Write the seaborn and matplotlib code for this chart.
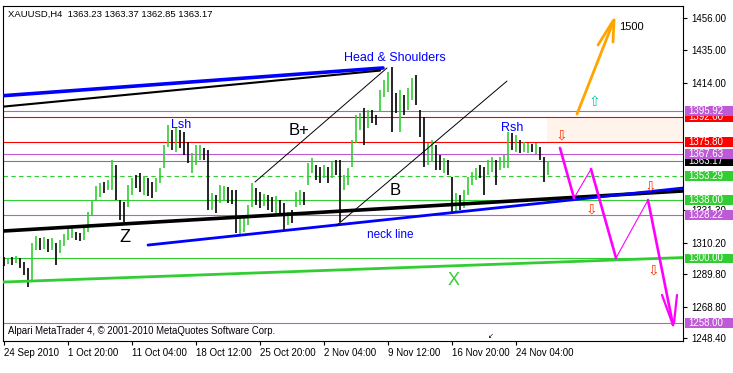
import matplotlib
matplotlib.use("Agg")
import matplotlib.pyplot as plt
import matplotlib.transforms as mtransforms
from matplotlib.patches import Rectangle
import seaborn as sns

# ---------------- data ----------------
highs = [1301.0, 1300.3, 1301.0, 1301.6, 1300.3, 1297.7, 1293.8, 1310.0, 1314.6, 1313.3,
         1313.9, 1312.6, 1313.3, 1310.0, 1312.0, 1315.9, 1319.8, 1321.1, 1317.2, 1316.5,
         1321.7, 1330.1, 1337.9, 1347.0, 1349.0, 1349.6, 1350.9, 1363.9, 1360.6, 1337.9,
         1336.6, 1347.7, 1352.2, 1354.1, 1355.4, 1353.5, 1352.2, 1349.6, 1352.2, 1358.7,
         1373.6, 1386.6, 1383.3, 1384.6, 1383.3, 1382.0, 1375.6, 1368.4, 1373.6, 1373.6,
         1371.7, 1370.4, 1342.5, 1341.2, 1347.7, 1347.0, 1346.4, 1344.4, 1344.4, 1326.9,
         1328.2, 1334.7, 1349.0, 1345.7, 1343.1, 1341.8, 1341.2, 1339.9, 1340.5, 1337.9,
         1336.0, 1330.1, 1331.4, 1343.1, 1344.4, 1343.1, 1361.9, 1365.2, 1360.6, 1359.3,
         1360.6, 1359.3, 1362.6, 1363.9, 1363.9, 1354.1, 1358.7, 1376.9, 1393.1, 1394.4,
         1397.6, 1396.3, 1396.3, 1393.1, 1409.3, 1415.8, 1421.0, 1424.2, 1407.3, 1409.3,
         1406.0, 1410.6, 1417.1, 1419.0, 1396.3, 1391.8, 1374.9, 1376.9, 1373.6, 1367.1,
         1365.2, 1363.9, 1352.9, 1342.5, 1341.2, 1344.4, 1352.9, 1356.1, 1358.7, 1360.6,
         1359.3, 1363.9, 1365.8, 1363.9, 1365.8, 1367.1, 1382.0, 1381.4, 1380.1, 1376.9,
         1375.6, 1374.9, 1374.3, 1374.9, 1372.3, 1365.8, 1363.4]
lows = [1295.1, 1296.4, 1295.8, 1297.1, 1293.8, 1289.3, 1281.5, 1285.4, 1305.5, 1305.5,
        1306.1, 1304.2, 1305.5, 1295.8, 1303.5, 1308.1, 1312.0, 1313.3, 1312.0, 1311.3,
        1312.0, 1317.2, 1328.2, 1337.9, 1339.9, 1342.5, 1344.4, 1344.4, 1337.9, 1325.0,
        1323.7, 1333.4, 1341.2, 1345.7, 1343.1, 1341.2, 1340.5, 1339.2, 1343.1, 1349.0,
        1358.7, 1372.3, 1370.4, 1369.1, 1371.7, 1367.1, 1361.9, 1355.4, 1360.6, 1363.9,
        1363.9, 1331.4, 1331.4, 1329.5, 1336.0, 1337.9, 1336.0, 1335.3, 1316.5, 1315.2,
        1317.2, 1321.7, 1333.4, 1334.7, 1332.7, 1334.0, 1331.4, 1330.1, 1329.5, 1328.2,
        1318.5, 1321.7, 1323.0, 1333.4, 1334.7, 1334.7, 1347.7, 1355.4, 1350.9, 1349.0,
        1352.2, 1349.0, 1352.2, 1354.1, 1323.7, 1344.4, 1347.7, 1359.3, 1374.9, 1383.3,
        1373.6, 1384.6, 1387.9, 1386.6, 1395.0, 1404.8, 1408.0, 1382.0, 1394.4, 1382.0,
        1393.1, 1396.3, 1402.8, 1399.6, 1378.8, 1359.3, 1360.6, 1362.6, 1357.4, 1357.4,
        1355.4, 1354.1, 1329.5, 1330.1, 1331.4, 1332.7, 1341.2, 1347.7, 1350.9, 1352.2,
        1341.2, 1354.1, 1356.1, 1347.7, 1357.4, 1358.7, 1358.7, 1370.4, 1369.1, 1368.4,
        1369.1, 1368.4, 1369.1, 1367.8, 1363.9, 1349.6, 1354.1]
direction = ("dududdduud" "ududuuuudd" "uuuuuduudd" "duuddudduu" "uududdduuu"
             "dduduudddu" "uuudduddud" "duduuduudd" "ududduuuuu" "dudduuuddu"
             "duuddduudd" "udduduuuud" "duuduuudud" "uududdu")

tick_bars = [0, 16, 32, 48, 64, 80, 96, 112, 128]
tick_labels = ["24 Sep 2010", "1 Oct 20:00", "11 Oct 04:00", "18 Oct 12:00",
               "25 Oct 20:00", "2 Nov 04:00", "9 Nov 12:00", "16 Nov 20:00",
               "24 Nov 04:00"]
price_ticks = [1456.00, 1435.00, 1414.00, 1331.30, 1310.20, 1289.80, 1268.80, 1248.40]

GREEN = "#32CD32"
PURPLE = "#BF5AD6"
RED = "#FF0000"
GRAY = "#708090"

level_values = [1395.92, 1392.00, 1375.80, 1367.63, 1363.17, 1353.29, 1338.00, 1328.22, 1300.00, 1258.00]
level_colors = [PURPLE, RED, RED, PURPLE, GRAY, GREEN, GREEN, PURPLE, GREEN, PURPLE]
level_styles = ["-", "-", "-", "-", "-", "--", "-", "-", "-", "-"]
label_order = [1, 0, 2, 4, 3, 5, 6, 7, 8, 9]
label_colors = [PURPLE, RED, RED, PURPLE, "#000000", GREEN, GREEN, PURPLE, GREEN, PURPLE]

# trend lines: (x0, x1), (y0, y1), colour, width
trend_x = [(-0.25, 94.75), (-0.25, 94.0), (-0.25, 169.75), (36.0, 169.75), (-0.25, 169.75),
           (62.75, 95.75), (83.0, 125.75)]
trend_y = [(1405.6, 1423.6), (1398.5, 1421.9), (1317.8, 1343.8), (1308.7, 1345.7),
           (1284.7, 1300.6), (1349.6, 1423.6), (1321.1, 1415.1)]
trend_c = ["#0000FF", "#000000", "#000000", "#0000FF", GREEN, "#000000", "#000000"]
trend_w = [2.6, 1.5, 2.6, 2.0, 2.0, 0.7, 0.7]

# magenta projection path
mag_x = [(139.0, 142.5), (142.5, 146.75), (146.75, 153.0), (153.0, 161.0), (161.0, 167.25),
         (164.5, 167.25), (168.25, 167.5)]
mag_y = [(1371.7, 1339.2), (1339.2, 1358.0), (1358.0, 1300.3), (1300.3, 1337.9),
         (1337.9, 1256.8), (1276.3, 1256.8), (1276.3, 1258.1)]
mag_w = [1.9, 0.8, 1.9, 0.8, 1.9, 1.6, 1.6]

# orange target arrow
org_x = [(143.25, 152.5), (148.5, 152.25), (152.25, 152.5)]
org_y = [(1393.7, 1454.7), (1438.5, 1454.1), (1440.4, 1454.7)]

down_x = [139.25, 146.75, 161.5, 162.25]
down_y = [1380.1, 1332.1, 1346.4, 1292.5]

# ---------------- figure ----------------
sns.set_theme(style="white")
plt.rcParams["font.family"] = ["Liberation Sans", "DejaVu Sans"]

fig = plt.figure(figsize=(7.33, 3.73), dpi=100)
ax = fig.add_axes([3 / 733, 32 / 373, 680 / 733, 335 / 373])
ax.set_facecolor("white")
ax.set_xlim(-0.25, 169.75)
ax.set_ylim(1246.45, 1463.8)

# shaded zone
ax.add_patch(Rectangle((135.75, 1375.8), 34.0, 1392.0 - 1375.8, facecolor="#FFF4EC",
                       edgecolor="none", zorder=0))

# horizontal levels
for v, c, s in zip(level_values, level_colors, level_styles):
    if s == "--":
        ax.axhline(v, color=c, lw=0.8, linestyle=(0, (4, 3)), zorder=1)
    else:
        ax.axhline(v, color=c, lw=0.8, zorder=1)

# bars
xs = list(range(len(highs)))
up_x = [x for x, d in zip(xs, direction) if d == "u"]
dn_x = [x for x, d in zip(xs, direction) if d == "d"]
ax.vlines(up_x, [lows[i] for i in up_x], [highs[i] for i in up_x], color=GREEN, lw=1.2, zorder=2)
ax.vlines(dn_x, [lows[i] for i in dn_x], [highs[i] for i in dn_x], color="#000000", lw=1.2, zorder=2)

# trend lines
for tx, ty, c, w in zip(trend_x, trend_y, trend_c, trend_w):
    sns.lineplot(x=list(tx), y=list(ty), ax=ax, color=c, linewidth=w, estimator=None,
                 sort=False, legend=False, zorder=3)
for tx, ty, w in zip(mag_x, mag_y, mag_w):
    sns.lineplot(x=list(tx), y=list(ty), ax=ax, color="#FF00FF", linewidth=w, estimator=None,
                 sort=False, legend=False, zorder=4)
for tx, ty in zip(org_x, org_y):
    sns.lineplot(x=list(tx), y=list(ty), ax=ax, color="#FFA500", linewidth=2.0, estimator=None,
                 sort=False, legend=False, zorder=4)

# arrows
for x, y in zip(down_x, down_y):
    ax.text(x, y, "\u21e9", color="#FF3300", fontsize=10, ha="center", va="center",
            family=["DejaVu Sans"], zorder=5)
ax.text(147.5, 1401.5, "\u21e7", color="#00CCAA", fontsize=10, ha="center", va="center",
        family=["DejaVu Sans"], zorder=5)

# annotation texts
ax.text(153.75, 1450.2, "1500", fontsize=8, ha="left", va="center", color="black")
ax.text(97.75, 1430.1, "Head & Shoulders", fontsize=9, ha="center", va="center", color="#0000FF")
ax.text(44.25, 1386.6, "Lsh", fontsize=9, ha="center", va="center", color="#0000FF")
ax.text(127.0, 1384.6, "Rsh", fontsize=9, ha="center", va="center", color="#0000FF")
ax.text(73.75, 1383.3, "B+", fontsize=12, ha="center", va="center", color="black")
ax.text(97.75, 1344.1, "B", fontsize=12, ha="center", va="center", color="black")
ax.text(96.5, 1315.2, "neck line", fontsize=8.5, ha="center", va="center", color="#0000FF")
ax.text(30.25, 1313.3, "Z", fontsize=13, ha="center", va="center", color="black")
ax.text(112.5, 1285.4, "X", fontsize=13, ha="center", va="center", color=GREEN)

# axes styling
for sp in ax.spines.values():
    sp.set_color("black")
    sp.set_linewidth(0.8)
    sp.set_visible(True)
ax.set_xticks(tick_bars)
ax.set_xticklabels(tick_labels)
for lbl in ax.get_xticklabels():
    lbl.set_horizontalalignment("left")
ax.yaxis.tick_right()
ax.set_yticks(price_ticks)
ax.set_yticklabels([f"{v:.2f}" for v in price_ticks])
ax.tick_params(axis="x", bottom=True, direction="out", length=3, width=0.8, labelsize=7,
               pad=2, colors="black")
ax.tick_params(axis="y", right=True, left=False, direction="out", length=3, width=0.8,
               labelsize=7, pad=3, colors="black")
ax.set_xlabel("")
ax.set_ylabel("")
ax.grid(False)

# coloured price labels on the right scale (later ones cover earlier ones)
trans = mtransforms.blended_transform_factory(ax.transAxes, ax.transData)
for n, idx in enumerate(label_order):
    v = level_values[idx]
    ax.add_patch(Rectangle((1.0 + 1.5 / 680, v - 3.2), 60 / 680, 6.4, transform=trans,
                           facecolor=label_colors[idx], edgecolor="none", clip_on=False,
                           zorder=10 + 2 * n))
    ax.text(1.0 + 5 / 680, v, f"{v:.2f}", transform=trans, color="white", fontsize=7,
            ha="left", va="center", clip_on=False, zorder=11 + 2 * n)

# header and footer texts
fig.text(8 / 733, 1 - 14 / 373, "XAUUSD,H4  1363.23 1363.37 1362.85 1363.17", fontsize=6.8,
         ha="left", va="center", color="black")
fig.text(8 / 733, 1 - 331 / 373, "Alpari MetaTrader 4, \u00a9 2001-2010 MetaQuotes Software Corp.",
         fontsize=6.9, ha="left", va="center", color="black")
fig.text(491 / 733, 1 - 336 / 373, "\u2199", fontsize=5, ha="center", va="center", color="black",
         family=["DejaVu Sans"])

fig.savefig("out.png", dpi=100, facecolor="white")
